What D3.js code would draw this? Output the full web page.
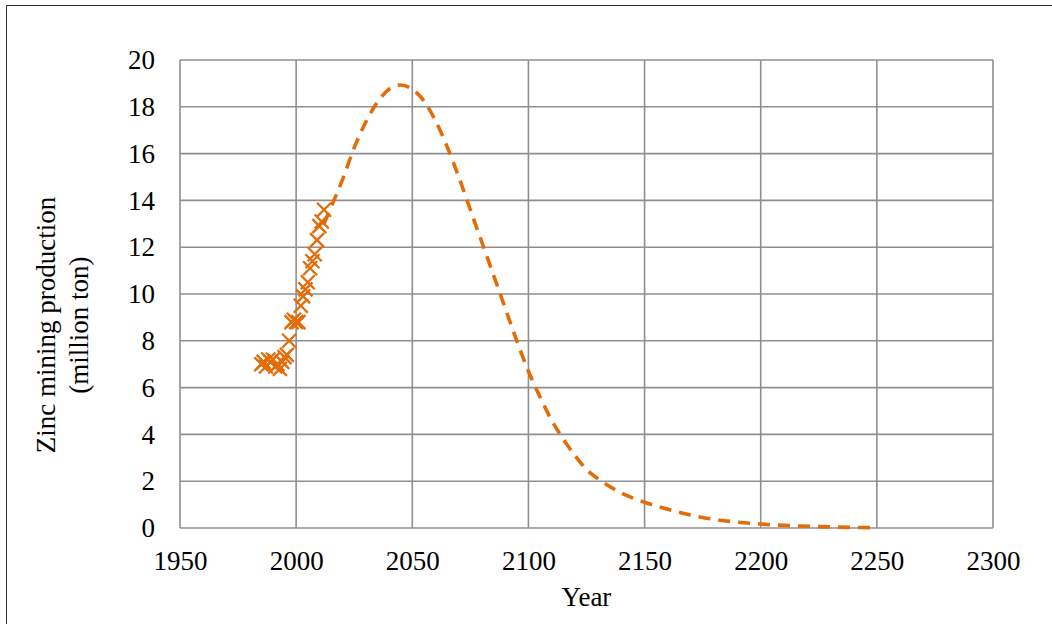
<!DOCTYPE html>
<html>
<head>
<meta charset="utf-8">
<script src="https://cdn.jsdelivr.net/npm/d3@7"></script>
<style>
  html, body { margin: 0; padding: 0; background: #fff; }
  svg { display: block; }
</style>
</head>
<body>
<svg id="chart" width="1052" height="624"></svg>
<script>
// Observed zinc mine production (million ton)
const obsYears = [1985, 1986, 1987, 1988, 1989, 1990, 1991, 1992, 1993, 1994, 1995, 1996,
                  1997, 1998, 1999, 2000, 2001, 2002, 2003, 2004, 2005, 2006, 2007, 2008,
                  2009, 2010, 2011, 2012];
const obsValues = [7.0, 7.1, 6.9, 7.2, 7.1, 7.2, 6.9, 7.0, 6.8, 7.1, 7.3, 7.4,
                   8.0, 8.8, 8.9, 8.8, 8.8, 9.5, 9.9, 10.2, 10.5, 11.1, 11.4, 11.7,
                   12.3, 12.9, 13.1, 13.6];

// Projected production curve
const fitYears = [2012, 2015, 2020, 2025, 2030, 2035, 2040, 2045, 2050, 2055, 2060, 2065,
                  2070, 2075, 2080, 2085, 2090, 2095, 2100, 2105, 2110, 2115, 2120, 2125,
                  2130, 2140, 2150, 2160, 2175, 2200, 2225, 2250];
const fitValues = [13.0, 13.7, 14.9, 16.25, 17.35, 18.2, 18.75, 18.93, 18.75, 18.25, 17.4, 16.3,
                   15.0, 13.6, 12.2, 10.8, 9.4, 8.0, 6.7, 5.6, 4.6, 3.8, 3.1, 2.5,
                   2.1, 1.5, 1.1, 0.8, 0.45, 0.17, 0.06, 0.01];

const xTicks = [1950, 2000, 2050, 2100, 2150, 2200, 2250, 2300];
const yTicks = [0, 2, 4, 6, 8, 10, 12, 14, 16, 18, 20];

const orange = "#E36C09";
const gridColor = "#8f8f8f";
const font = "'Liberation Serif', 'Times New Roman', serif";
const fontSize = 27;

const svg = d3.select("#chart");

// Frame
svg.append("line").attr("x1", 6).attr("y1", 5.5).attr("x2", 1052).attr("y2", 5.5)
  .attr("stroke", "#333").attr("stroke-width", 1);
svg.append("line").attr("x1", 6.5).attr("y1", 5).attr("x2", 6.5).attr("y2", 624)
  .attr("stroke", "#333").attr("stroke-width", 1);

const x = d3.scaleLinear().domain([1950, 2300]).range([180, 993]);
const y = d3.scaleLinear().domain([0, 20]).range([528, 60]);

// Gridlines
const grid = svg.append("g");
grid.selectAll("line.h").data(yTicks).join("line")
  .attr("x1", x(1950)).attr("x2", x(2300))
  .attr("y1", d => y(d)).attr("y2", d => y(d))
  .attr("stroke", gridColor).attr("stroke-width", 1.6);
grid.selectAll("line.v").data(xTicks).join("line")
  .attr("y1", y(0)).attr("y2", y(20))
  .attr("x1", d => x(d)).attr("x2", d => x(d))
  .attr("stroke", gridColor).attr("stroke-width", 1.6);

// Axes (labels only)
const yAxis = d3.axisLeft(y).tickValues(yTicks).tickSize(0).tickPadding(25);
const gy = svg.append("g").attr("transform", `translate(${x(1950)},0)`).call(yAxis);
gy.select(".domain").remove();
gy.selectAll("text").attr("font-family", font).attr("font-size", fontSize).attr("fill", "#000");

const xAxis = d3.axisBottom(x).tickValues(xTicks).tickFormat(d3.format("d")).tickSize(0).tickPadding(23);
const gx = svg.append("g").attr("transform", `translate(0,${y(0)})`).call(xAxis);
gx.select(".domain").remove();
gx.selectAll("text").attr("font-family", font).attr("font-size", fontSize).attr("fill", "#000");

// Projected curve
const fitData = fitYears.map((yr, i) => [yr, fitValues[i]]);
svg.append("path")
  .datum(fitData)
  .attr("fill", "none")
  .attr("stroke", orange)
  .attr("stroke-width", 3.6)
  .attr("stroke-dasharray", "12,8")
  .attr("d", d3.line().x(d => x(d[0])).y(d => y(d[1])).curve(d3.curveMonotoneX));

// Observed points as X markers
const s = 7;
const obs = svg.append("g");
obsYears.forEach((yr, i) => {
  const cx = x(yr), cy = y(obsValues[i]);
  obs.append("path")
    .attr("d", `M${cx - s},${cy - s}L${cx + s},${cy + s}M${cx - s},${cy + s}L${cx + s},${cy - s}`)
    .attr("stroke", orange).attr("stroke-width", 2.3).attr("fill", "none");
});

// Axis titles
svg.append("text")
  .attr("x", x(2125)).attr("y", 606)
  .attr("text-anchor", "middle")
  .attr("font-family", font).attr("font-size", fontSize)
  .text("Year");

const yt = svg.append("text")
  .attr("transform", "translate(55,325) rotate(-90)")
  .attr("text-anchor", "middle")
  .attr("font-family", font).attr("font-size", fontSize);
yt.append("tspan").attr("x", 0).attr("y", 0).text("Zinc mining production");
yt.append("tspan").attr("x", 0).attr("y", 0).attr("dy", 33).text("(million ton)");
</script>
</body>
</html>
